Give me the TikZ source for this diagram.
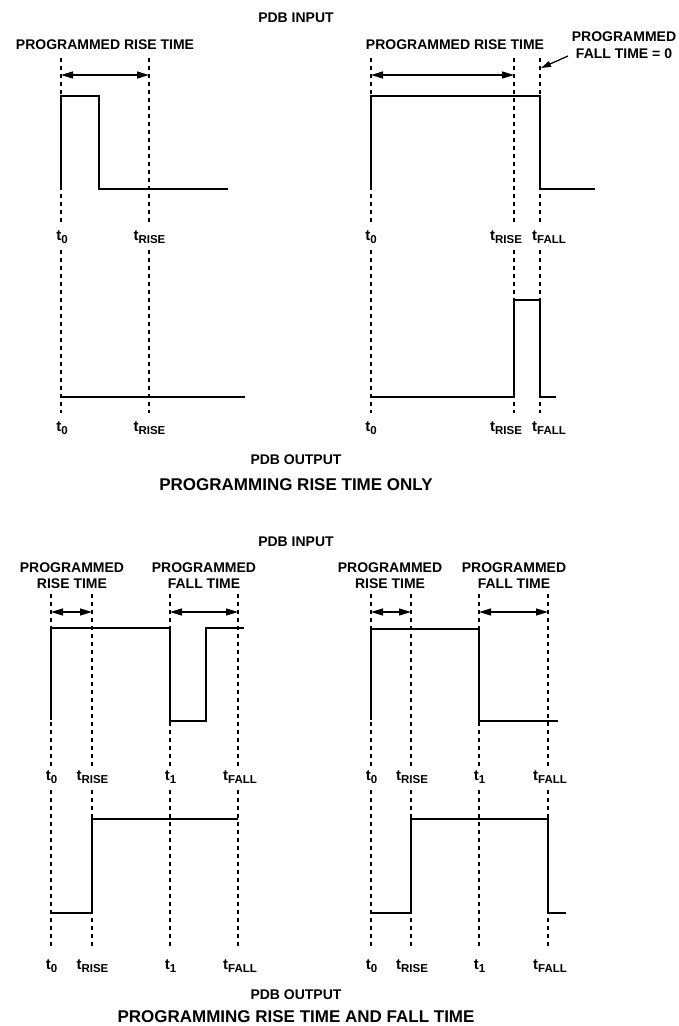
\documentclass[tikz,border=0pt]{standalone}
\usepackage{fontspec}
\setmainfont{Liberation Sans}
\usetikzlibrary{arrows.meta}
\newcommand{\tlab}[1]{{\fontsize{15}{15}\selectfont t}\raisebox{-3pt}{\fontsize{11.5}{11.5}\selectfont #1}}
\begin{document}
\begin{tikzpicture}[x=1pt,y=-1pt,
  wave/.style={line width=2.2pt, line join=miter},
  guide/.style={line width=1.4pt, dash pattern=on 4pt off 4pt},
  span/.style={line width=1.2pt, {Triangle[length=12pt,width=7pt]}-{Triangle[length=12pt,width=7pt]}},
  lbl/.style={font=\bfseries\fontsize{14}{15.5}\selectfont, inner sep=0pt, align=center},
  ttl/.style={font=\bfseries\fontsize{17}{19}\selectfont, inner sep=0pt},
  tl/.style={font=\bfseries, inner sep=0pt, anchor=base}
]
\useasboundingbox (0,0) rectangle (679,1026);

% ---------- Section 1 ----------
\node[lbl] (in1) at (296,18) {PDB INPUT};
\node[lbl] (rise1L) at (105,45) {PROGRAMMED RISE TIME};
\node[lbl] (rise1R) at (455,45) {PROGRAMMED RISE TIME};
\node[lbl, font=\bfseries\fontsize{14}{16.6}\selectfont] (fall0) at (624,45) {PROGRAMMED\\FALL TIME = 0};

\foreach \x in {61,149,371,514,540} {
  \draw[guide] (\x,58) -- (\x,225);
  \draw[guide] (\x,250) -- (\x,413);
}

\draw[span] (61,75) -- (149,75);
\draw[span] (371,75) -- (514,75);
\coordinate (fallp) at (568,56);
\coordinate (fallq) at (541,68);
\draw[line width=1.2pt, -{Triangle[length=10pt,width=6pt]}] (fallp) -- (fallq);

\node[tl] (a1) at (62,240) {\tlab{0}};
\node[tl] (a2) at (149.5,240) {\tlab{RISE}};
\node[tl] (a3) at (371,240) {\tlab{0}};
\node[tl] (a4) at (506,240) {\tlab{RISE}};
\node[tl] (a5) at (549,240) {\tlab{FALL}};

\node[tl] (b1) at (62,431) {\tlab{0}};
\node[tl] (b2) at (149.5,431) {\tlab{RISE}};
\node[tl] (b3) at (371,431) {\tlab{0}};
\node[tl] (b4) at (506,431) {\tlab{RISE}};
\node[tl] (b5) at (549,431) {\tlab{FALL}};

\draw[wave] (61,188) -- (61,96) -- (99,96) -- (99,189) -- (228,189);
\draw[wave] (61,397) -- (245,397);
\draw[wave] (371,188) -- (371,96) -- (540,96) -- (540,189) -- (595,189);
\draw[wave] (371,397) -- (514,397) -- (514,300) -- (540,300) -- (540,397) -- (556,397);

\node[lbl] (out1) at (296,460) {PDB OUTPUT};
\node[ttl] (ttl1) at (296,485) {PROGRAMMING RISE TIME ONLY};

% ---------- Section 2 ----------
\node[lbl] (in2) at (296,542) {PDB INPUT};
\node[lbl] (r2L) at (72,575.5) {PROGRAMMED\\RISE TIME};
\node[lbl] (f2L) at (204,575.5) {PROGRAMMED\\FALL TIME};
\node[lbl] (r2R) at (390,575.5) {PROGRAMMED\\RISE TIME};
\node[lbl] (f2R) at (514,575.5) {PROGRAMMED\\FALL TIME};

\foreach \x in {51,92,170,238,371,411,479,548} {
  \draw[guide] (\x,594) -- (\x,767);
  \draw[guide] (\x,790) -- (\x,948);
}

\draw[span] (51,612) -- (92,612);
\draw[span] (170,612) -- (238,612);
\draw[span] (371,612) -- (411,612);
\draw[span] (479,612) -- (548,612);

\draw[wave] (51,720) -- (51,628) -- (170,628) -- (170,721) -- (206,721) -- (206,628) -- (244,628);
\draw[wave] (371,720) -- (371,629) -- (479,629) -- (479,721) -- (558,721);
\draw[wave] (51,913) -- (92,913) -- (92,819) -- (238,819);
\draw[wave] (371,913) -- (411,913) -- (411,819) -- (548,819) -- (548,913) -- (566,913);

\node[tl] (c1) at (51.5,780) {\tlab{0}};
\node[tl] (c2) at (92.5,780) {\tlab{RISE}};
\node[tl] (c3) at (170.5,780) {\tlab{1}};
\node[tl] (c4) at (240,780) {\tlab{FALL}};
\node[tl] (c5) at (371.5,780) {\tlab{0}};
\node[tl] (c6) at (412,780) {\tlab{RISE}};
\node[tl] (c7) at (479.5,780) {\tlab{1}};
\node[tl] (c8) at (550,780) {\tlab{FALL}};

\node[tl] (d1) at (51.5,969) {\tlab{0}};
\node[tl] (d2) at (92.5,969) {\tlab{RISE}};
\node[tl] (d3) at (170.5,969) {\tlab{1}};
\node[tl] (d4) at (240,969) {\tlab{FALL}};
\node[tl] (d5) at (371.5,969) {\tlab{0}};
\node[tl] (d6) at (412,969) {\tlab{RISE}};
\node[tl] (d7) at (479.5,969) {\tlab{1}};
\node[tl] (d8) at (550,969) {\tlab{FALL}};

\node[lbl] (out2) at (296,994.5) {PDB OUTPUT};
\node[ttl] (ttl2) at (296,1016.5) {PROGRAMMING RISE TIME AND FALL TIME};
\end{tikzpicture}
\end{document}
